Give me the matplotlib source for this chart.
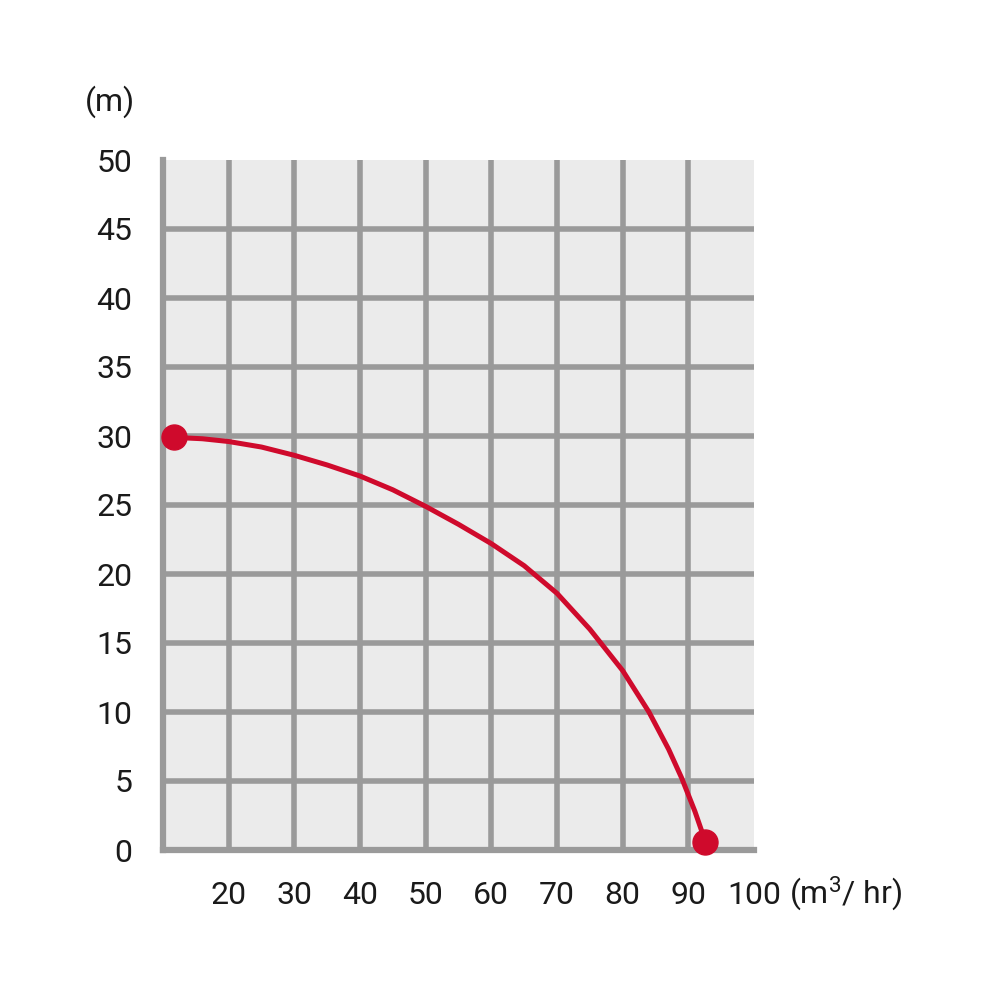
import matplotlib.pyplot as plt
from matplotlib import font_manager

# pump curve: flow (m3/hr) vs head (m)
flow = [11.7, 16, 20, 25, 30, 35, 40, 45, 50, 55, 60, 65, 70, 75, 80, 84, 87, 89, 91, 92.6]
head = [29.9, 29.8, 29.6, 29.2, 28.6, 27.9, 27.1, 26.1, 24.9, 23.6, 22.2, 20.6, 18.6, 16.0, 13.0, 10.0, 7.3, 5.2, 2.8, 0.6]
x_ticks = [20, 30, 40, 50, 60, 70, 80, 90, 100]
y_ticks = [0, 5, 10, 15, 20, 25, 30, 35, 40, 45, 50]

names = {f.name for f in font_manager.fontManager.ttflist}
fam = 'Roboto' if 'Roboto' in names else 'DejaVu Sans'
plt.rcParams['font.family'] = [fam, 'DejaVu Sans']
plt.rcParams['mathtext.fontset'] = 'custom'
plt.rcParams['mathtext.rm'] = fam

grid_c = '#9a9a9a'
red = '#cf0a2c'
txt_c = '#1a1a1a'

fig = plt.figure(figsize=(10, 10), dpi=100)
ax = fig.add_axes([0.163, 0.15, 0.591, 0.69])
ax.set_facecolor('#ebebeb')
ax.set_xlim(10, 100)
ax.set_ylim(0, 50)

# grid drawn by hand so the 100 / 50 edges stay open
for x in x_ticks[:-1]:
    ax.axvline(x, color=grid_c, lw=4, zorder=1)
for y in y_ticks[1:-1]:
    ax.axhline(y, color=grid_c, lw=4, zorder=1)

for s in ['top', 'right']:
    ax.spines[s].set_visible(False)
for s in ['left', 'bottom']:
    ax.spines[s].set_color(grid_c)
    ax.spines[s].set_linewidth(4.5)

ax.plot(flow, head, color=red, lw=3.6, solid_joinstyle='round',
        solid_capstyle='round', zorder=3, clip_on=False)
ax.plot([flow[0], flow[-1]], [head[0], head[-1]], 'o', color=red,
        ms=18, zorder=4, clip_on=False)

ax.set_xticks(x_ticks)
ax.set_yticks(y_ticks)
ax.tick_params(length=0, labelsize=23, colors=txt_c)
ax.tick_params(axis='x', pad=22)
ax.tick_params(axis='y', pad=22)

ax.text(-0.09, 1.085, '(m)', transform=ax.transAxes, fontsize=23,
        ha='center', va='center', color=txt_c)
ax.text(1.06, -0.063, r'(m$\mathrm{^3}$/ hr)', transform=ax.transAxes, fontsize=23,
        ha='left', va='center', color=txt_c)

fig.savefig('out.png', dpi=100)
